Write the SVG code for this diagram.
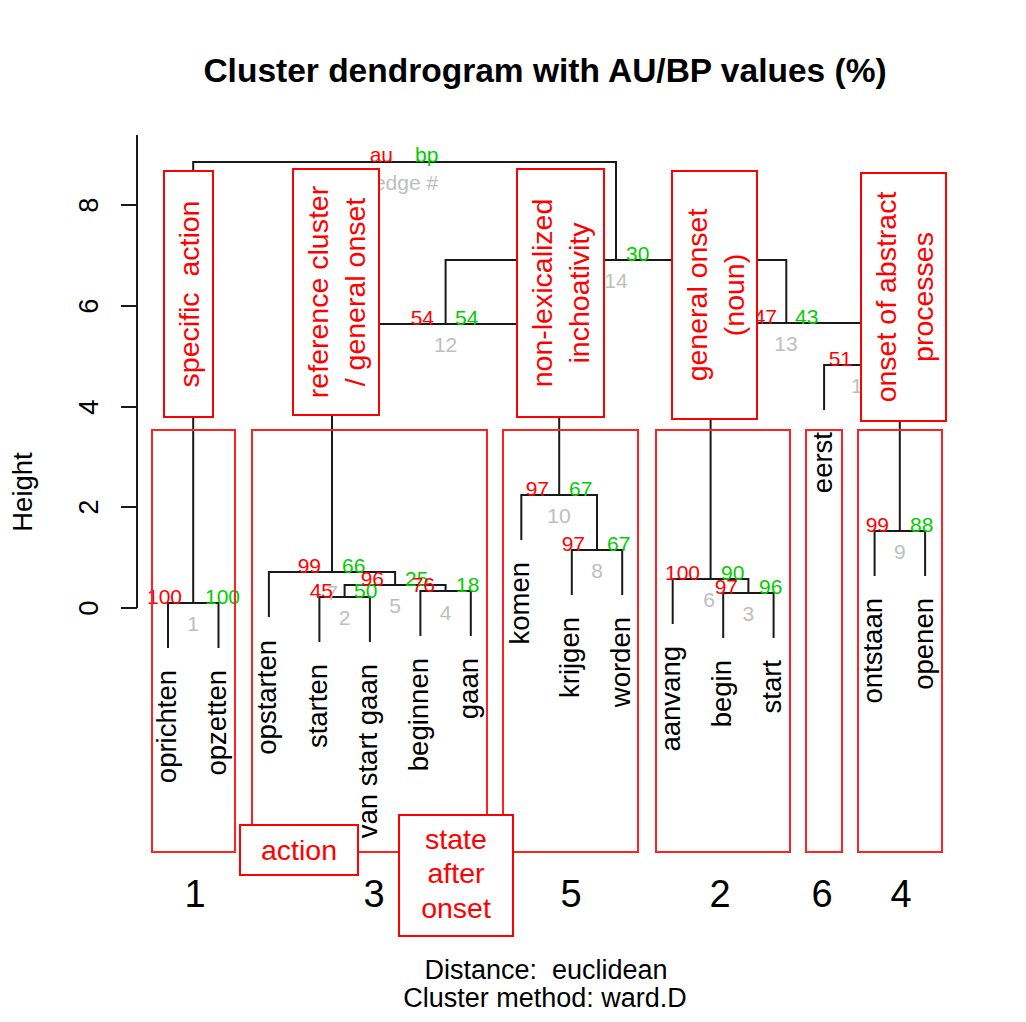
<svg xmlns="http://www.w3.org/2000/svg" width="1026" height="1022" viewBox="0 0 1026 1022">
<style>
text{font-family:"Liberation Sans",Arial,sans-serif}
.ln{stroke:#1a1a1a;stroke-width:2;fill:none}
.ax{stroke:#1a1a1a;stroke-width:2;fill:none}
.au{fill:#ff0000;font-size:21px;text-anchor:end}
.bp{fill:#00cd00;font-size:21px}
.ed{fill:#bebebe;font-size:21px;text-anchor:middle}
.lf{font-size:27.5px;text-anchor:end;fill:#000}
.tk{font-size:27.5px;text-anchor:middle;fill:#000}
.cr{fill:none;stroke:#ff2222;stroke-width:2}
.cn{font-size:38px;text-anchor:middle;fill:#000}
.ab rect{fill:#fff;stroke:#ff0000;stroke-width:2}
.ab text{fill:#ff0000;font-size:28.5px;text-anchor:middle;white-space:pre}
</style>
<rect width="1026" height="1022" fill="#fff"/>

<g id="title"><text x="545" y="82" font-size="33.5" font-weight="bold" text-anchor="middle">Cluster dendrogram with AU/BP values (%)</text></g>

<g id="y-axis">
<path class="ax" d="M137 135V608M121 608H137M121 507H137M121 407H137M121 306H137M121 205H137"/>
<text class="tk" transform="translate(98 608) rotate(-90)">0</text>
<text class="tk" transform="translate(98 507) rotate(-90)">2</text>
<text class="tk" transform="translate(98 407) rotate(-90)">4</text>
<text class="tk" transform="translate(98 306) rotate(-90)">6</text>
<text class="tk" transform="translate(98 205) rotate(-90)">8</text>
<text class="tk" transform="translate(32 492) rotate(-90)">Height</text>
</g>

<g id="connectors">
<path class="ln" d="M168 648V603H218.5V648"/>
<path class="ln" d="M319.4 642V597H369.9V642"/>
<path class="ln" d="M420.4 636V591H470.8V636"/>
<path class="ln" d="M344.6 597V585H445.6V591"/>
<path class="ln" d="M268.9 617V572H395.1V585"/>
<path class="ln" d="M571.8 595V550H622.2V595"/>
<path class="ln" d="M521.3 540V495H597V550"/>
<path class="ln" d="M332 572V324H559.2V495"/>
<path class="ln" d="M723.2 638V593H773.6V638"/>
<path class="ln" d="M672.7 624V579H748.4V593"/>
<path class="ln" d="M874.6 576V531H925.1V576"/>
<path class="ln" d="M824.1 410V365H899.8V531"/>
<path class="ln" d="M710.6 579V323H862V365"/>
<path class="ln" d="M445.6 324V260H786.3V323"/>
<path class="ln" d="M193.2 603V162H616V260"/>
</g>

<g id="leaves">
<g id="leaf-oprichten"><text class="lf" transform="translate(175.5 670) rotate(-90)">oprichten</text></g>
<g id="leaf-opzetten"><text class="lf" transform="translate(226 670) rotate(-90)">opzetten</text></g>
<g id="leaf-opstarten"><text class="lf" transform="translate(276.4 640) rotate(-90)">opstarten</text></g>
<g id="leaf-starten"><text class="lf" transform="translate(326.9 664) rotate(-90)">starten</text></g>
<g id="leaf-van-start-gaan"><text class="lf" transform="translate(377.4 664) rotate(-90)">van start gaan</text></g>
<g id="leaf-beginnen"><text class="lf" transform="translate(427.9 658) rotate(-90)">beginnen</text></g>
<g id="leaf-gaan"><text class="lf" transform="translate(478.3 658) rotate(-90)">gaan</text></g>
<g id="leaf-komen"><text class="lf" transform="translate(528.8 562) rotate(-90)">komen</text></g>
<g id="leaf-krijgen"><text class="lf" transform="translate(579.3 617) rotate(-90)">krijgen</text></g>
<g id="leaf-worden"><text class="lf" transform="translate(629.7 617) rotate(-90)">worden</text></g>
<g id="leaf-aanvang"><text class="lf" transform="translate(680.2 646) rotate(-90)">aanvang</text></g>
<g id="leaf-begin"><text class="lf" transform="translate(730.7 660) rotate(-90)">begin</text></g>
<g id="leaf-start"><text class="lf" transform="translate(781.1 660) rotate(-90)">start</text></g>
<g id="leaf-eerst"><text class="lf" transform="translate(831.6 432) rotate(-90)">eerst</text></g>
<g id="leaf-ontstaan"><text class="lf" transform="translate(882.1 598) rotate(-90)">ontstaan</text></g>
<g id="leaf-openen"><text class="lf" transform="translate(932.6 598) rotate(-90)">openen</text></g>
</g>

<g id="pvalues">
<g id="node-15"><text class="au" x="393" y="162">au</text><text class="bp" x="415" y="162">bp</text><text class="ed" x="406" y="190">edge #</text></g>
<g id="node-1"><text class="au" x="182" y="604">100</text><text class="bp" x="205" y="604">100</text><text class="ed" x="193" y="631">1</text></g>
<g id="node-7"><text class="ed" x="332" y="600">7</text><text class="au" x="321" y="573">99</text><text class="bp" x="342" y="573">66</text></g>
<g id="node-2"><text class="au" x="333" y="598">45</text><text class="bp" x="354" y="598">50</text><text class="ed" x="344.6" y="625">2</text></g>
<g id="node-5"><text class="au" x="384" y="586">96</text><text class="bp" x="405" y="586">25</text><text class="ed" x="395" y="613">5</text></g>
<g id="node-4"><text class="au" x="435" y="592">76</text><text class="bp" x="456" y="592">18</text><text class="ed" x="445.6" y="620">4</text></g>
<g id="node-10"><text class="au" x="549" y="496">97</text><text class="bp" x="569" y="496">67</text><text class="ed" x="559" y="523">10</text></g>
<g id="node-8"><text class="au" x="585" y="551">97</text><text class="bp" x="607" y="551">67</text><text class="ed" x="597" y="578">8</text></g>
<g id="node-12"><text class="au" x="434" y="325">54</text><text class="bp" x="455" y="325">54</text><text class="ed" x="445.6" y="352">12</text></g>
<g id="node-14"><text class="bp" x="626" y="261">30</text><text class="ed" x="616" y="288">14</text></g>
<g id="node-6"><text class="au" x="700" y="580">100</text><text class="bp" x="721" y="580">90</text><text class="ed" x="709" y="607">6</text></g>
<g id="node-3"><text class="au" x="738" y="594">97</text><text class="bp" x="759" y="594">96</text><text class="ed" x="748.4" y="621">3</text></g>
<g id="node-13"><text class="au" x="777" y="324">47</text><text class="bp" x="795" y="324">43</text><text class="ed" x="786" y="351">13</text></g>
<g id="node-11"><text class="au" x="852" y="366">51</text><text class="ed" x="862" y="393">11</text></g>
<g id="node-9"><text class="au" x="889" y="532">99</text><text class="bp" x="910" y="532">88</text><text class="ed" x="899.8" y="559">9</text></g>
</g>

<g id="clusters">
<g id="cluster-1"><rect class="cr" x="152" y="430" width="83" height="422"/><text class="cn" x="195" y="907">1</text></g>
<g id="cluster-3"><rect class="cr" x="252" y="430" width="235" height="422"/><text class="cn" x="374" y="907">3</text></g>
<g id="cluster-5"><rect class="cr" x="503" y="430" width="135" height="422"/><text class="cn" x="571" y="907">5</text></g>
<g id="cluster-2"><rect class="cr" x="656" y="430" width="134" height="422"/><text class="cn" x="720" y="907">2</text></g>
<g id="cluster-6"><rect class="cr" x="806" y="430" width="36" height="422"/><text class="cn" x="822" y="907">6</text></g>
<g id="cluster-4"><rect class="cr" x="858" y="430" width="84" height="422"/><text class="cn" x="901" y="907">4</text></g>
</g>

<g id="box-specific-action" class="ab"><rect x="164" y="171" width="49" height="246"/><text transform="translate(199 294) rotate(-90)">specific  action</text></g>
<g id="box-reference-cluster" class="ab"><rect x="293" y="169" width="86" height="246"/><text transform="translate(328 292) rotate(-90)">reference cluster</text><text transform="translate(365 292) rotate(-90)">/ general onset</text></g>
<g id="box-non-lexicalized" class="ab"><rect x="517" y="169" width="87" height="248"/><text transform="translate(552 293) rotate(-90)">non-lexicalized</text><text transform="translate(589 293) rotate(-90)">inchoativity</text></g>
<g id="box-general-onset-noun" class="ab"><rect x="672" y="171" width="85" height="248"/><text transform="translate(707 295) rotate(-90)">general onset</text><text transform="translate(744 295) rotate(-90)">(noun)</text></g>
<g id="box-onset-abstract" class="ab"><rect x="861" y="173" width="85" height="248"/><text transform="translate(896 297) rotate(-90)">onset of abstract</text><text transform="translate(933 297) rotate(-90)">processes</text></g>
<g id="box-action" class="ab"><rect x="240" y="825" width="118" height="50"/><text x="299" y="860">action</text></g>
<g id="box-state-after-onset" class="ab"><rect x="399" y="815" width="114" height="121"/><text x="456" y="849">state</text><text x="456" y="883">after</text><text x="456" y="918">onset</text></g>

<g id="subtitle">
<text x="546" y="979" font-size="27" text-anchor="middle" style="white-space:pre">Distance:  euclidean</text>
<text x="545" y="1007" font-size="27" text-anchor="middle">Cluster method: ward.D</text>
</g>
</svg>
